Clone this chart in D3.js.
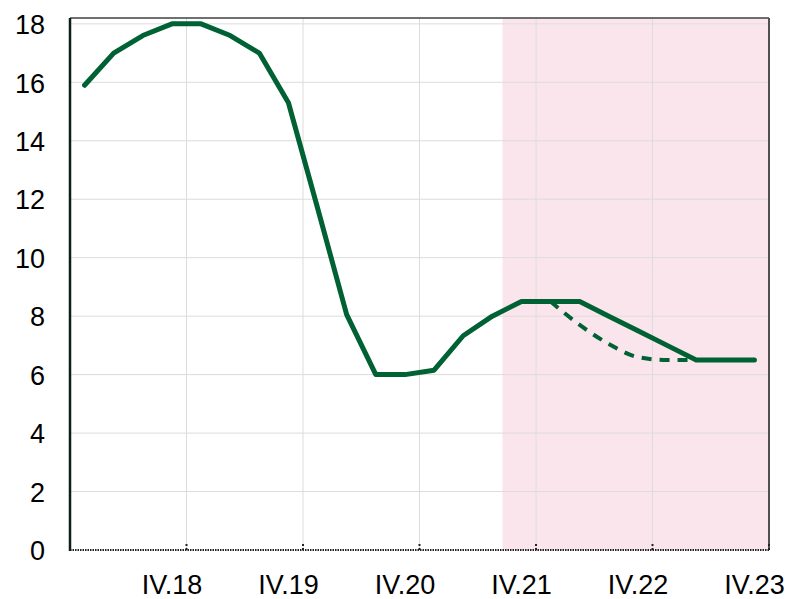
<!DOCTYPE html>
<html lang="en">
  <head>
    <meta charset="UTF-8" />
    <title>Chart</title>
    <script src="https://d3js.org/d3.v7.min.js"></script>
    <style>
      body { margin: 0; background: #fff; }
      text { font-family: "Liberation Sans", Arial, sans-serif; fill: #000; }
      .grid line { stroke: #dcdcdc; stroke-width: 1px; }
    </style>
  </head>
  <body>
    <svg width="792" height="599"></svg>
    <script>
      // quarters I.18 .. IV.23
      const quarters = [];
      for (let yr = 18; yr <= 23; yr++) {
        ["I", "II", "III", "IV"].forEach((q) => quarters.push(q + "." + yr));
      }
      const mainSeries = [
        15.9, 17.0, 17.6, 18.0, 18.0, 17.6, 17.0, 15.3,
        11.7, 8.05, 6.0, 6.0, 6.15, 7.33, 8.0, 8.5,
        8.5, 8.5, 8.0, 7.5, 7.0, 6.5, 6.5, 6.5,
      ];
      // alternative path, starts at I.22
      const altStart = 16;
      const altSeries = [8.5, 7.7, 7.05, 6.6, 6.5, 6.5];
      const yTicks = [0, 2, 4, 6, 8, 10, 12, 14, 16, 18];
      const shadeFrom = 14.85; // in quarter units

      const width = 792;
      const height = 599;
      const margin = { left: 70, right: 23, top: 18, bottom: 49 };

      const svg = d3.select("svg");

      const x = d3
        .scaleLinear()
        .domain([0, quarters.length])
        .range([margin.left, width - margin.right]);
      const y = d3
        .scaleLinear()
        .domain([0, 18.2])
        .range([height - margin.bottom, margin.top]);

      const x0 = x.range()[0], x1 = x.range()[1];
      const y0 = y.range()[0], y1 = y.range()[1];

      // shaded forecast band
      svg
        .append("rect")
        .attr("x", x(shadeFrom))
        .attr("y", y1)
        .attr("width", x(quarters.length) - x(shadeFrom))
        .attr("height", y0 - y1)
        .attr("fill", "#fbe5ec");

      // grid
      const grid = svg.append("g").attr("class", "grid");
      grid
        .selectAll(".h")
        .data(yTicks.filter((d) => d > 0))
        .enter()
        .append("line")
        .attr("x1", x0)
        .attr("x2", x1)
        .attr("y1", (d) => y(d))
        .attr("y2", (d) => y(d));

      const yearEdges = d3.range(4, quarters.length, 4);
      grid
        .selectAll(".v")
        .data(yearEdges)
        .enter()
        .append("line")
        .attr("x1", (d) => x(d))
        .attr("x2", (d) => x(d))
        .attr("y1", y1)
        .attr("y2", y0);

      // frame
      svg
        .append("line")
        .attr("x1", x0)
        .attr("x2", x1)
        .attr("y1", y1)
        .attr("y2", y1)
        .attr("stroke", "#404040")
        .attr("stroke-width", 1.5);
      svg
        .append("line")
        .attr("x1", x1)
        .attr("x2", x1)
        .attr("y1", y1)
        .attr("y2", y0)
        .attr("stroke", "#505050")
        .attr("stroke-width", 2);

      // lines
      const line = d3
        .line()
        .x((d, i) => x(i + 0.5))
        .y((d) => y(d));

      svg
        .append("path")
        .datum(altSeries)
        .attr("fill", "none")
        .attr("stroke", "#006134")
        .attr("stroke-width", 4)
        .attr("stroke-dasharray", "10,8")
        .attr(
          "d",
          d3
            .line()
            .x((d, i) => x(altStart + i + 0.5))
            .y((d) => y(d))
            .curve(d3.curveMonotoneX)
        );

      svg
        .append("path")
        .datum(mainSeries)
        .attr("fill", "none")
        .attr("stroke", "#006134")
        .attr("stroke-width", 5)
        .attr("stroke-linecap", "round")
        .attr("stroke-linejoin", "round")
        .attr("d", line);

      // left axis
      const yAxis = svg
        .append("g")
        .attr("transform", `translate(${x0},0)`)
        .call(d3.axisLeft(y).tickValues(yTicks).tickSize(0).tickPadding(25));
      yAxis.select(".domain").remove();
      yAxis.selectAll("text").style("font-size", "27px").attr("dy", "0.36em");

      // bottom axis
      const xAxis = svg.append("g").attr("transform", `translate(0,${y0})`);
      xAxis
        .append("line")
        .attr("x1", x0)
        .attr("x2", x1)
        .attr("stroke", "#222")
        .attr("stroke-width", 2)
        .attr("stroke-dasharray", "1.5,1");
      xAxis
        .selectAll(".tick")
        .data(yearEdges.concat([quarters.length]))
        .enter()
        .append("line")
        .attr("x1", (d) => x(d))
        .attr("x2", (d) => x(d))
        .attr("y1", 0)
        .attr("y2", -7)
        .attr("stroke", "#222")
        .attr("stroke-width", 2)
        .attr("stroke-dasharray", "2,2");
      xAxis
        .selectAll(".lbl")
        .data(quarters.map((q, i) => [q, i]).filter((d) => d[0].startsWith("IV")))
        .enter()
        .append("text")
        .attr("x", (d) => x(d[1] + 0.5))
        .attr("y", 44)
        .attr("text-anchor", "middle")
        .style("font-size", "27px")
        .text((d) => d[0]);
      svg
        .append("line")
        .attr("x1", x0)
        .attr("x2", x0)
        .attr("y1", y1)
        .attr("y2", y0 + 1)
        .attr("stroke", "#0d1f14")
        .attr("stroke-width", 2.5);
    </script>
  </body>
</html>
